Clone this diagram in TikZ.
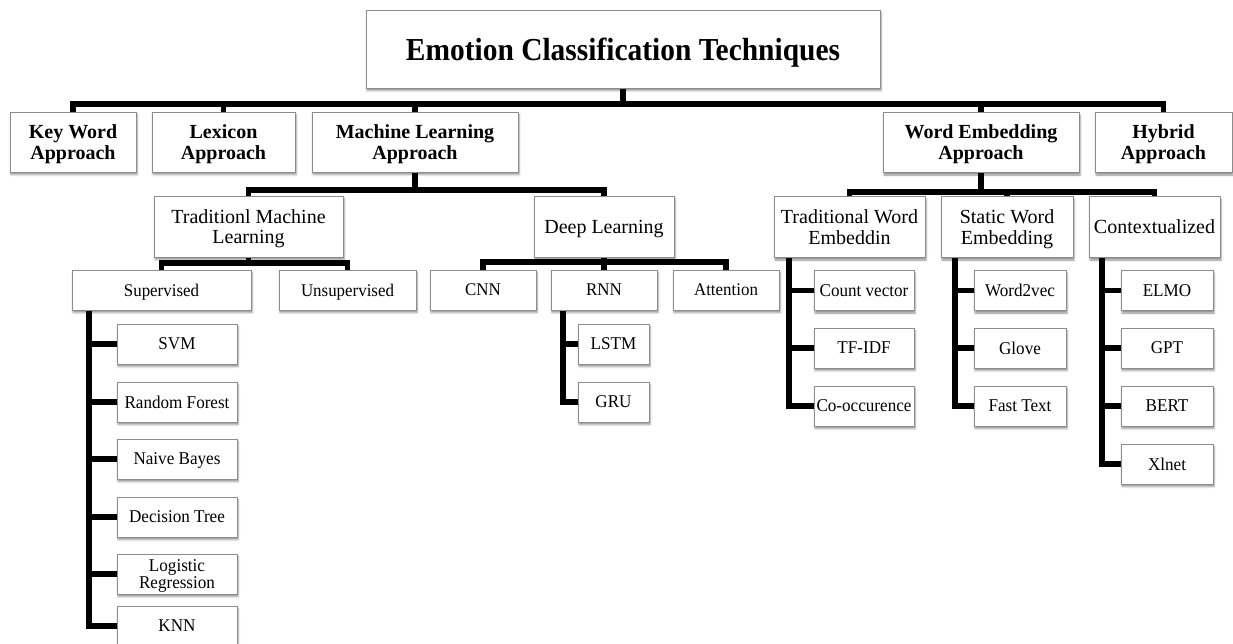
\documentclass[tikz,border=0pt]{standalone}
\usepackage{fontspec}
\setmainfont{Liberation Serif}
\newfontfamily\titlefont[FakeStretch=0.92]{Liberation Serif}
\newfontfamily\leaffont[FakeStretch=0.95]{Liberation Serif}
\usetikzlibrary{shadows.blur,backgrounds}
\begin{document}
\begin{tikzpicture}[x=1pt,y=-1pt,
  box/.style={draw=black!45, line width=0.9pt, fill=white, inner sep=0pt, align=center, text depth=0pt,
    blur shadow={shadow xshift=1pt, shadow yshift=-2.5pt, shadow blur radius=2pt, shadow opacity=45}},
  ttl/.style={box, font=\titlefont\fontsize{32}{34}\selectfont\bfseries},
  lvone/.style={box, font=\fontsize{20}{21}\selectfont\bfseries, minimum height=60pt},
  lvtwo/.style={box, font=\fontsize{20}{20.5}\selectfont, minimum height=61pt},
  lvthree/.style={box, font=\leaffont\fontsize{17.8}{18}\selectfont, minimum height=40pt},
  leaf/.style={box, font=\leaffont\fontsize{18}{17.5}\selectfont, minimum height=40pt},
  conn/.style={line width=5.5pt, black, line join=miter}
]
\useasboundingbox (0,0) rectangle (1233,643);
\clip (0,0) rectangle (1233,643);

% title
\node[ttl, minimum width=514pt, minimum height=78pt] (title) at (623,49) {Emotion Classification Techniques};

% level 1
\node[lvone, minimum width=126pt] (kw)  at (73,142)    {Key Word\\Approach};
\node[lvone, minimum width=143pt] (lex) at (223.5,142) {Lexicon\\Approach};
\node[lvone, minimum width=206pt] (ml)  at (415,142)   {Machine Learning\\Approach};
\node[lvone, minimum width=196pt] (we)  at (981,142.5) {Word Embedding\\Approach};
\node[lvone, minimum width=137pt] (hy)  at (1163.5,142.5) {Hybrid\\Approach};

% level 2
\node[lvtwo, minimum width=189pt] (tml) at (248.5,226.5) {Traditionl Machine\\Learning};
\node[lvtwo, minimum width=140pt] (dl)  at (604,226.5)   {Deep Learning};
\node[lvtwo, minimum width=151pt] (twe) at (849.5,227)   {Traditional Word\\Embeddin};
\node[lvtwo, minimum width=132pt] (swe) at (1007,227)    {Static Word\\Embedding};
\node[lvtwo, minimum width=131pt] (ctx) at (1154.5,227)  {Contextualized};

% level 3
\node[lvthree, minimum width=179pt] (sup) at (161.5,290) {Supervised};
\node[lvthree, minimum width=137pt] (uns) at (347.5,290) {Unsupervised};
\node[lvthree, minimum width=106pt] (cnn) at (483,290)   {CNN};
\node[lvthree, minimum width=106pt] (rnn) at (604,290)   {RNN};
\node[lvthree, minimum width=106pt] (att) at (726,290)   {Attention};

% supervised leaves
\node[leaf, minimum width=120pt] (svm) at (177,344) {SVM};
\node[leaf, minimum width=120pt] (rf)  at (177,402) {Random Forest};
\node[leaf, minimum width=120pt] (nb)  at (177,459) {Naive Bayes};
\node[leaf, minimum width=120pt] (dt)  at (177,517) {Decision Tree};
\node[leaf, minimum width=120pt] (lr)  at (177,574) {Logistic\\Regression};
\node[leaf, minimum width=120pt] (knn) at (177,626) {KNN};

% RNN leaves
\node[leaf, minimum width=71pt] (lstm) at (613.5,344) {LSTM};
\node[leaf, minimum width=71pt] (gru)  at (613.5,402) {GRU};

% traditional word embedding leaves
\node[leaf, minimum width=100pt] (cv)    at (864,290.5) {Count vector};
\node[leaf, minimum width=100pt] (tfidf) at (864,348)   {TF-IDF};
\node[leaf, minimum width=100pt] (cooc)  at (864,406)   {Co-occurence};

% static leaves
\node[leaf, minimum width=92pt] (w2v)   at (1020,290.5) {Word2vec};
\node[leaf, minimum width=92pt] (glove) at (1020,348)   {Glove};
\node[leaf, minimum width=92pt] (ft)    at (1020,406)   {Fast Text};

% contextualized leaves
\node[leaf, minimum width=92pt] (elmo) at (1167,290.5) {ELMO};
\node[leaf, minimum width=92pt] (gpt)  at (1167,348)   {GPT};
\node[leaf, minimum width=92pt] (bert) at (1167,406)   {BERT};
\node[leaf, minimum width=92pt] (xl)   at (1167,464)   {Xlnet};

\begin{scope}[on background layer]
  \coordinate (b1) at (0,104);
  \coordinate (b2) at (0,190);
  \coordinate (b3) at (0,192);
  \coordinate (b4) at (0,263);
  \coordinate (b5) at (0,262);
  \coordinate (s1) at (89,0);
  \coordinate (s2) at (563,0);
  \coordinate (s3) at (789,0);
  \coordinate (s4) at (955,0);
  \coordinate (s5) at (1102,0);

  % top bus
  \draw[conn] (title.south) -- (title.south |- b1);
  \draw[conn] (kw.north) |- (b1 -| hy.north) -- (hy.north);
  \draw[conn] (lex.north) -- (lex.north |- b1);
  \draw[conn] (ml.north) -- (ml.north |- b1);
  \draw[conn] (we.north) -- (we.north |- b1);

  % machine learning bus
  \draw[conn] (ml.south) -- (ml.south |- b2);
  \draw[conn] (tml.north) |- (b2 -| dl.north) -- (dl.north);

  % word embedding bus
  \draw[conn] (we.south) -- (we.south |- b3);
  \draw[conn] (twe.north) |- (b3 -| ctx.north) -- (ctx.north);
  \draw[conn] (swe.north) -- (swe.north |- b3);

  % traditional ML bus
  \draw[conn] (tml.south) -- (tml.south |- b4);
  \draw[conn] (sup.north) |- (b4 -| uns.north) -- (uns.north);

  % deep learning bus
  \draw[conn] (dl.south) -- (dl.south |- b5);
  \draw[conn] (cnn.north) |- (b5 -| att.north) -- (att.north);
  \draw[conn] (rnn.north) -- (rnn.north |- b5);

  % supervised spine
  \draw[conn] (s1 |- sup.south) |- (knn.west);
  \foreach \n in {svm,rf,nb,dt,lr} \draw[conn] (\n.west) -- (\n.west -| s1);

  % RNN spine
  \draw[conn] (s2 |- rnn.south) |- (gru.west);
  \draw[conn] (lstm.west) -- (lstm.west -| s2);

  % traditional word embedding spine
  \draw[conn] (s3 |- twe.south) |- (cooc.west);
  \foreach \n in {cv,tfidf} \draw[conn] (\n.west) -- (\n.west -| s3);

  % static spine
  \draw[conn] (s4 |- swe.south) |- (ft.west);
  \foreach \n in {w2v,glove} \draw[conn] (\n.west) -- (\n.west -| s4);

  % contextualized spine
  \draw[conn] (s5 |- ctx.south) |- (xl.west);
  \foreach \n in {elmo,gpt,bert} \draw[conn] (\n.west) -- (\n.west -| s5);
\end{scope}
\end{tikzpicture}
\end{document}
